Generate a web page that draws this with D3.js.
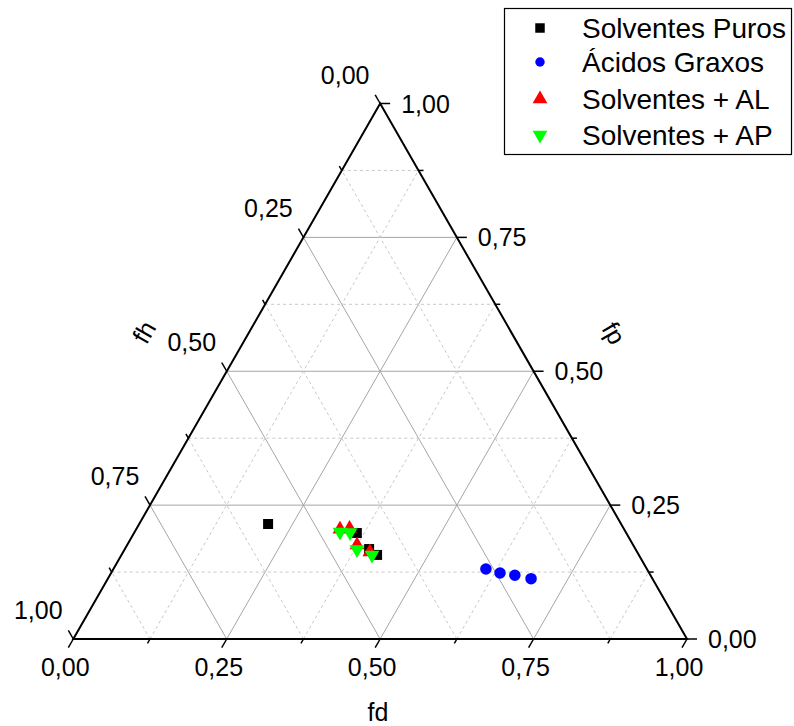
<!DOCTYPE html>
<html>
<head>
<meta charset="utf-8">
<script src="https://cdn.jsdelivr.net/npm/d3@7"></script>
<style>
  html, body { margin: 0; padding: 0; background: #fff; }
  svg { display: block; font-family: "Liberation Sans", Arial, sans-serif; }
</style>
</head>
<body>
<svg id="chart" width="794" height="726"></svg>
<script>
// Ternary composition (fd, fp); fh = 1 - fd - fp
const seriesNames = ["Solventes Puros", "Ácidos Graxos", "Solventes + AL", "Solventes + AP"];
const solventesPurosFd = [0.210, 0.363, 0.398, 0.4165];
const solventesPurosFp = [0.2148, 0.198, 0.168, 0.157];
const acidosGraxosFd = [0.607, 0.6337, 0.660, 0.6896];
const acidosGraxosFp = [0.1307, 0.1232, 0.119, 0.1126];
const solventesALFd = [0.332, 0.347, 0.3746, 0.402];
const solventesALFp = [0.205, 0.2063, 0.1755, 0.1625];
const solventesAPFd = [0.3347, 0.3515, 0.3787, 0.4083];
const solventesAPFp = [0.1998, 0.1989, 0.1671, 0.1569];
const majorTicks = [0, 0.25, 0.5, 0.75, 1];
const minorTicks = [0.125, 0.375, 0.625, 0.875];
const tickLabels = ["0,00", "0,25", "0,50", "0,75", "1,00"];
const axisTitles = ["fd", "fp", "fh"];

const svg = d3.select("#chart");

// Horizontal position follows fd + fp/2, vertical follows fp
const xs = d3.scaleLinear().domain([0, 1]).range([73.3, 687]);
const ys = d3.scaleLinear().domain([0, 1]).range([639, 103.5]);
const P = (fd, fp) => [xs(fd + fp / 2), ys(fp)];

// Grid lines
const gridG = svg.append("g");
const allGrid = majorTicks.slice(1, 4).map(v => ({v, major: true}))
  .concat(minorTicks.map(v => ({v, major: false})));
const line = d3.line();
allGrid.forEach(({v, major}) => {
  const segs = [
    [P(v, 0), P(v, 1 - v)],          // constant fd
    [P(0, v), P(1 - v, v)],          // constant fp
    [P(1 - v, 0), P(0, 1 - v)]       // constant fh
  ];
  segs.forEach(s => {
    gridG.append("path")
      .attr("d", line(s))
      .attr("fill", "none")
      .attr("stroke", major ? "#a6a6a6" : "#c8c8c8")
      .attr("stroke-width", 1)
      .attr("stroke-dasharray", major ? null : "3,3");
  });
});

// Triangle frame
svg.append("path")
  .attr("d", line([P(0, 0), P(1, 0), P(0, 1)]) + "Z")
  .attr("fill", "none")
  .attr("stroke", "#000")
  .attr("stroke-width", 2)
  .attr("stroke-linejoin", "miter");

// Tick marks, pointing outward along each axis' grid direction
const dirDown = (() => {
  const a = P(0, 1), b = P(0, 0);
  const dx = b[0] - a[0], dy = b[1] - a[1], l = Math.hypot(dx, dy);
  return [dx / l, dy / l];
})();
const tickG = svg.append("g").attr("stroke", "#000").attr("stroke-width", 1.5);
function ticks(vals, len) {
  vals.forEach(v => {
    const b = P(v, 0);
    tickG.append("line").attr("x1", b[0]).attr("y1", b[1])
      .attr("x2", b[0] + dirDown[0] * len).attr("y2", b[1] + dirDown[1] * len);
    const r = P(1 - v, v);
    tickG.append("line").attr("x1", r[0]).attr("y1", r[1])
      .attr("x2", r[0] + len).attr("y2", r[1]);
    const l = P(0, 1 - v);
    tickG.append("line").attr("x1", l[0]).attr("y1", l[1])
      .attr("x2", l[0] + dirDown[0] * len).attr("y2", l[1] - dirDown[1] * len);
  });
}
ticks(majorTicks, 10);
ticks(minorTicks, 5);

// Tick labels
const labG = svg.append("g").attr("font-size", 25).attr("fill", "#000");
majorTicks.forEach((v, i) => {
  const b = P(v, 0);
  labG.append("text").attr("x", b[0] - 8).attr("y", b[1] + 28)
    .attr("text-anchor", "middle").attr("dominant-baseline", "central").text(tickLabels[i]);
  const r = P(1 - v, v);
  labG.append("text").attr("x", r[0] + 21).attr("y", r[1])
    .attr("text-anchor", "start").attr("dominant-baseline", "central").text(tickLabels[i]);
  const l = P(0, 1 - v);
  labG.append("text").attr("x", l[0] - 35).attr("y", l[1] - 29)
    .attr("text-anchor", "middle").attr("dominant-baseline", "central").text(tickLabels[i]);
});

// Axis titles
const titleG = svg.append("g").attr("font-size", 25).attr("fill", "#000");
titleG.append("text").attr("x", 378).attr("y", 712)
  .attr("text-anchor", "middle").attr("dominant-baseline", "central").text(axisTitles[0]);
titleG.append("text").attr("transform", "translate(614,333) rotate(60)")
  .attr("text-anchor", "middle").attr("dominant-baseline", "central").text(axisTitles[1]);
titleG.append("text").attr("transform", "translate(144,332) rotate(-60)")
  .attr("text-anchor", "middle").attr("dominant-baseline", "central").text(axisTitles[2]);

// Marker shapes
const symSquare = d3.symbol().type(d3.symbolSquare);
const symCircle = d3.symbol().type(d3.symbolCircle);
const symTri = d3.symbol().type(d3.symbolTriangle);
const styles = [
  {fd: solventesPurosFd, fp: solventesPurosFp, color: "#000000", sym: symSquare, size: 100, rot: 0, lsize: 90},
  {fd: acidosGraxosFd, fp: acidosGraxosFp, color: "#0000ff", sym: symCircle, size: 105, rot: 0, lsize: 70},
  {fd: solventesALFd, fp: solventesALFp, color: "#ff0000", sym: symTri, size: 95, rot: 0, lsize: 95},
  {fd: solventesAPFd, fp: solventesAPFp, color: "#00ff00", sym: symTri, size: 95, rot: 180, lsize: 95}
];

const markG = svg.append("g");
styles.forEach(s => {
  s.fd.forEach((fd, i) => {
    const [x, y] = P(fd, s.fp[i]);
    markG.append("path")
      .attr("d", s.sym.size(s.size)())
      .attr("transform", `translate(${x},${y}) rotate(${s.rot})`)
      .attr("fill", s.color);
  });
});

// Legend
const leg = svg.append("g");
leg.append("rect").attr("x", 504.5).attr("y", 8.5).attr("width", 287).attr("height", 146)
  .attr("fill", "#fff").attr("stroke", "#000").attr("stroke-width", 1.2);
const rowY = [28, 62, 99, 135];
styles.forEach((s, i) => {
  leg.append("path")
    .attr("d", s.sym.size(s.lsize)())
    .attr("transform", `translate(540,${rowY[i]}) rotate(${s.rot})`)
    .attr("fill", s.color);
  leg.append("text").attr("x", 582).attr("y", rowY[i])
    .attr("dominant-baseline", "central").attr("font-size", 28).attr("fill", "#000")
    .text(seriesNames[i]);
});
</script>
</body>
</html>
